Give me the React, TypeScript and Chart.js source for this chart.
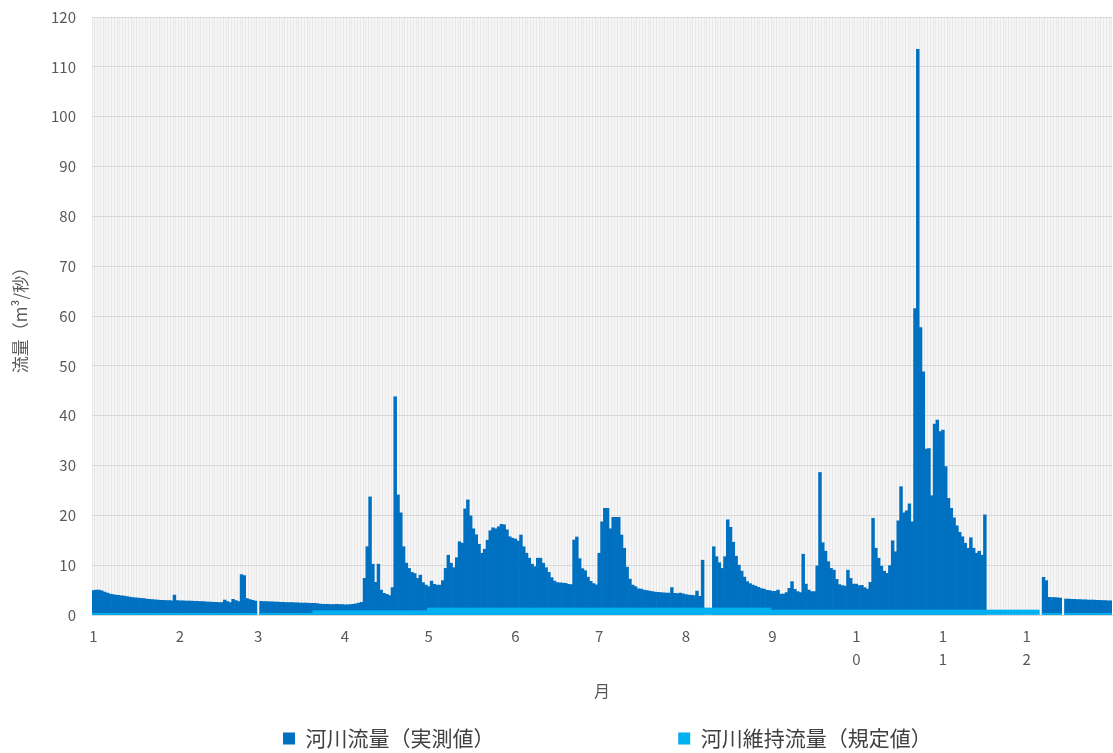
import React, { useEffect, useRef } from 'react';
import { Chart, registerables } from 'chart.js';

Chart.register(...registerables);

const FONT = "'Noto Sans CJK JP', 'Noto Sans', sans-serif";

// Calendar
const monthLengths = [31, 28, 31, 30, 31, 30, 31, 31, 30, 31, 30, 31];
const monthTickLabels: (string | string[])[] = [
  '1', '2', '3', '4', '5', '6', '7', '8', '9', ['1', '0'], ['1', '1'], ['1', '2'],
];

// 河川流量（実測値） daily values, m3/s (null = no measurement)
const flowJan = [4.9, 5.0, 5.0, 4.85, 4.6, 4.4, 4.2, 4.1, 4.0, 3.95, 3.85, 3.8, 3.7, 3.6, 3.5, 3.45, 3.4, 3.35, 3.3, 3.2, 3.15, 3.1, 3.05, 3.0, 2.95, 2.95, 2.9, 2.9, 2.85, 4.0, 2.9];
const flowFeb = [2.85, 2.85, 2.8, 2.8, 2.8, 2.75, 2.75, 2.7, 2.7, 2.65, 2.6, 2.6, 2.55, 2.55, 2.5, 2.5, 3.0, 2.7, 2.5, 3.15, 2.9, 2.7, 8.1, 7.9, 3.3, 3.1, 2.95, 2.8];
const flowMar = [null, 2.75, 2.7, 2.7, 2.65, 2.65, 2.6, 2.6, 2.55, 2.55, 2.5, 2.5, 2.5, 2.45, 2.45, 2.4, 2.4, 2.4, 2.35, 2.35, 2.35, 2.3, 2.2, 2.15, 2.15, 2.15, 2.1, 2.1, 2.15, 2.1, 2.1];
const flowApr = [2.05, 2.05, 2.1, 2.15, 2.25, 2.4, 2.55, 7.35, 13.7, 23.7, 10.2, 6.55, 10.2, 5.0, 4.35, 4.15, 3.9, 5.5, 43.8, 24.1, 20.5, 13.7, 10.4, 9.35, 8.55, 8.3, 7.35, 8.0, 6.5, 6.0];
const flowMay = [5.7, 6.8, 6.15, 6.0, 6.0, 6.9, 9.35, 12.0, 10.4, 9.5, 11.5, 14.7, 14.4, 21.3, 23.1, 19.9, 17.3, 16.1, 14.2, 12.4, 13.2, 15.0, 16.9, 17.5, 17.3, 17.7, 18.2, 18.1, 17.1, 15.7, 15.4];
const flowJun = [15.25, 14.85, 16.05, 13.7, 12.4, 11.4, 10.2, 9.7, 11.4, 11.4, 10.4, 9.5, 8.55, 7.5, 6.8, 6.5, 6.45, 6.4, 6.35, 6.15, 6.1, 15.05, 15.65, 11.3, 9.3, 8.9, 7.6, 6.75, 6.3, 6.05];
const flowJul = [12.4, 18.7, 21.4, 21.4, 17.3, 19.6, 19.6, 19.6, 16.05, 13.4, 9.6, 7.2, 6.0, 5.7, 5.25, 5.2, 5.0, 4.9, 4.8, 4.7, 4.6, 4.55, 4.5, 4.45, 4.4, 4.4, 5.5, 4.35, 4.3, 4.4, 4.25];
const flowAug = [4.1, 4.0, 3.95, 3.9, 4.8, 3.75, 11.0, null, null, null, 13.7, 11.7, 10.5, 9.35, 11.7, 19.1, 17.6, 14.6, 11.8, 10.0, 8.8, 7.6, 6.7, 6.3, 6.0, 5.8, 5.55, 5.3, 5.2, 4.95, 4.9];
const flowSep = [4.75, 4.75, 5.0, 4.2, 4.2, 4.5, 5.35, 6.7, 5.15, 4.7, 4.5, 12.2, 6.2, 5.0, 4.7, 4.7, 9.85, 28.6, 14.5, 12.8, 10.7, 9.35, 9.0, 7.15, 6.1, 5.9, 5.8, 9.0, 7.35, 6.2];
const flowOct = [6.2, 5.9, 5.95, 5.5, 5.2, 6.55, 19.4, 13.4, 11.4, 9.8, 8.8, 8.35, 9.9, 14.9, 12.7, 18.9, 25.75, 20.5, 20.9, 22.3, 18.7, 61.5, 113.5, 57.7, 48.8, 33.3, 33.4, 23.95, 38.3, 39.1, 36.8];
const flowNov = [37.1, 29.8, 23.4, 21.4, 19.5, 17.9, 16.6, 15.7, 14.4, 13.4, 15.5, 13.4, 12.4, 12.8, 12.0, 20.1, null, null, null, null, null, null, null, null, null, null, null, null, null, null];
const flowDec = [null, null, null, null, null, null, 7.55, 6.9, 3.55, 3.5, 3.5, 3.45, 3.4, null, 3.2, 3.2, 3.15, 3.15, 3.1, 3.1, 3.05, 3.05, 3.0, 3.0, 3.0, 2.95, 2.95, 2.9, 2.9, 2.85, 2.85];

// 河川維持流量（規定値）: regulated value per period (period start = day of year index)
const maintenanceStartDays = [0, 79, 120, 243, 340];
const maintenanceLevels = [0.35, 0.85, 1.4, 1.0, 0.35];
const maintenanceMissingDays = [59, 339, 347];

const LEGEND_START_X = 283;
const LEGEND_GAP = '\u3000'.repeat(8) + '\u2002 ';

const legendShift = {
  id: 'legendShift',
  afterLayout(chart: any) {
    const lg: any = chart.legend;
    if (!lg || !lg.lineWidths) return;
    const pad = lg.options.labels.padding;
    const start = (lg.left + pad + lg.right - lg.lineWidths[0]) / 2;
    const dx = LEGEND_START_X - start;
    lg.left += dx;
    lg.right += dx;
  },
};

const plotBackground = {
  id: 'plotBackground',
  beforeDraw(chart: any) {
    const { ctx, chartArea } = chart;
    if (!chartArea) return;
    ctx.save();
    ctx.fillStyle = '#f6f6f6';
    ctx.fillRect(chartArea.left, chartArea.top, chartArea.right - chartArea.left, chartArea.bottom - chartArea.top);
    ctx.restore();
  },
};

export default function App() {
  const ref = useRef<HTMLCanvasElement>(null);

  useEffect(() => {
    if (!ref.current) return;
    const labels: string[] = [];
    const monthStartIndex: Record<number, number> = {};
    let idx = 0;
    monthLengths.forEach((len, m) => {
      monthStartIndex[idx] = m;
      for (let d = 1; d <= len; d++) labels.push(`${m + 1}/${d}`);
      idx += len;
    });

    const flow = [
      ...flowJan, ...flowFeb, ...flowMar, ...flowApr, ...flowMay, ...flowJun,
      ...flowJul, ...flowAug, ...flowSep, ...flowOct, ...flowNov, ...flowDec,
    ];

    const maintenance = labels.map((_, i) => {
      if (maintenanceMissingDays.includes(i)) return null;
      let v: number | null = null;
      maintenanceStartDays.forEach((s, k) => {
        if (i >= s) v = maintenanceLevels[k];
      });
      return v;
    });

    Chart.defaults.font.family = FONT;
    Chart.defaults.color = '#595959';

    const chart = new Chart(ref.current, {
      type: 'bar',
      data: {
        labels,
        datasets: [
          {
            label: '河川流量（実測値）' + LEGEND_GAP,
            data: flow as any,
            backgroundColor: '#0070C0',
            borderWidth: 0,
            barPercentage: 1,
            categoryPercentage: 1,
            grouped: false,
            order: 1,
          } as any,
          {
            label: '河川維持流量（規定値）',
            data: maintenance as any,
            backgroundColor: '#00B0F0',
            borderWidth: 0,
            barPercentage: 1,
            categoryPercentage: 1,
            grouped: false,
            order: 0,
          } as any,
        ],
      },
      options: {
        animation: false,
        responsive: true,
        maintainAspectRatio: false,
        layout: { padding: { top: 17, right: 1, bottom: -6, left: 0 } },
        plugins: {
          tooltip: { enabled: false },
          legend: {
            position: 'bottom',
            labels: {
              boxWidth: 12,
              boxHeight: 12,
              padding: 11,
              color: '#404040',
              font: { size: 21, family: FONT },
              sort: (a: any, b: any) => a.datasetIndex - b.datasetIndex,
            },
          },
        },
        scales: {
          x: {
            type: 'category',
            grid: { color: '#e9e9e9', drawTicks: false, offset: true },
            border: { color: '#d9d9d9' },
            ticks: {
              autoSkip: false,
              maxRotation: 0,
              minRotation: 0,
              padding: 10,
              color: '#595959',
              font: { size: 15, family: FONT, lineHeight: 1.53 },
              callback: (_v: any, i: number) =>
                monthStartIndex[i] !== undefined ? (monthTickLabels[monthStartIndex[i]] as any) : '',
            },
            title: {
              display: true,
              text: '月',
              color: '#595959',
              font: { size: 16, family: FONT },
              padding: { top: 0, bottom: 16 },
            },
            afterFit: (s: any) => {
              s.height = 102;
              s.paddingLeft = 0;
              s.paddingRight = 0;
            },
          },
          y: {
            min: 0,
            max: 120,
            ticks: {
              stepSize: 10,
              padding: 16,
              color: '#595959',
              font: { size: 15, family: FONT },
            },
            grid: { color: '#d9d9d9', drawTicks: false },
            border: { display: false },
            title: {
              display: true,
              text: '流量（m³/秒）',
              color: '#595959',
              font: { size: 17, family: FONT },
              padding: { top: 10, bottom: 0 },
            },
            afterFit: (s: any) => {
              s.width = 92;
              s.paddingTop = 0;
              s.paddingBottom = 0;
            },
          },
        },
      },
      plugins: [plotBackground, legendShift],
    });

    return () => chart.destroy();
  }, []);

  return (
    <div style={{ position: 'absolute', left: 0, top: 0, width: 1113, height: 753 }}>
      <canvas ref={ref} />
    </div>
  );
}
